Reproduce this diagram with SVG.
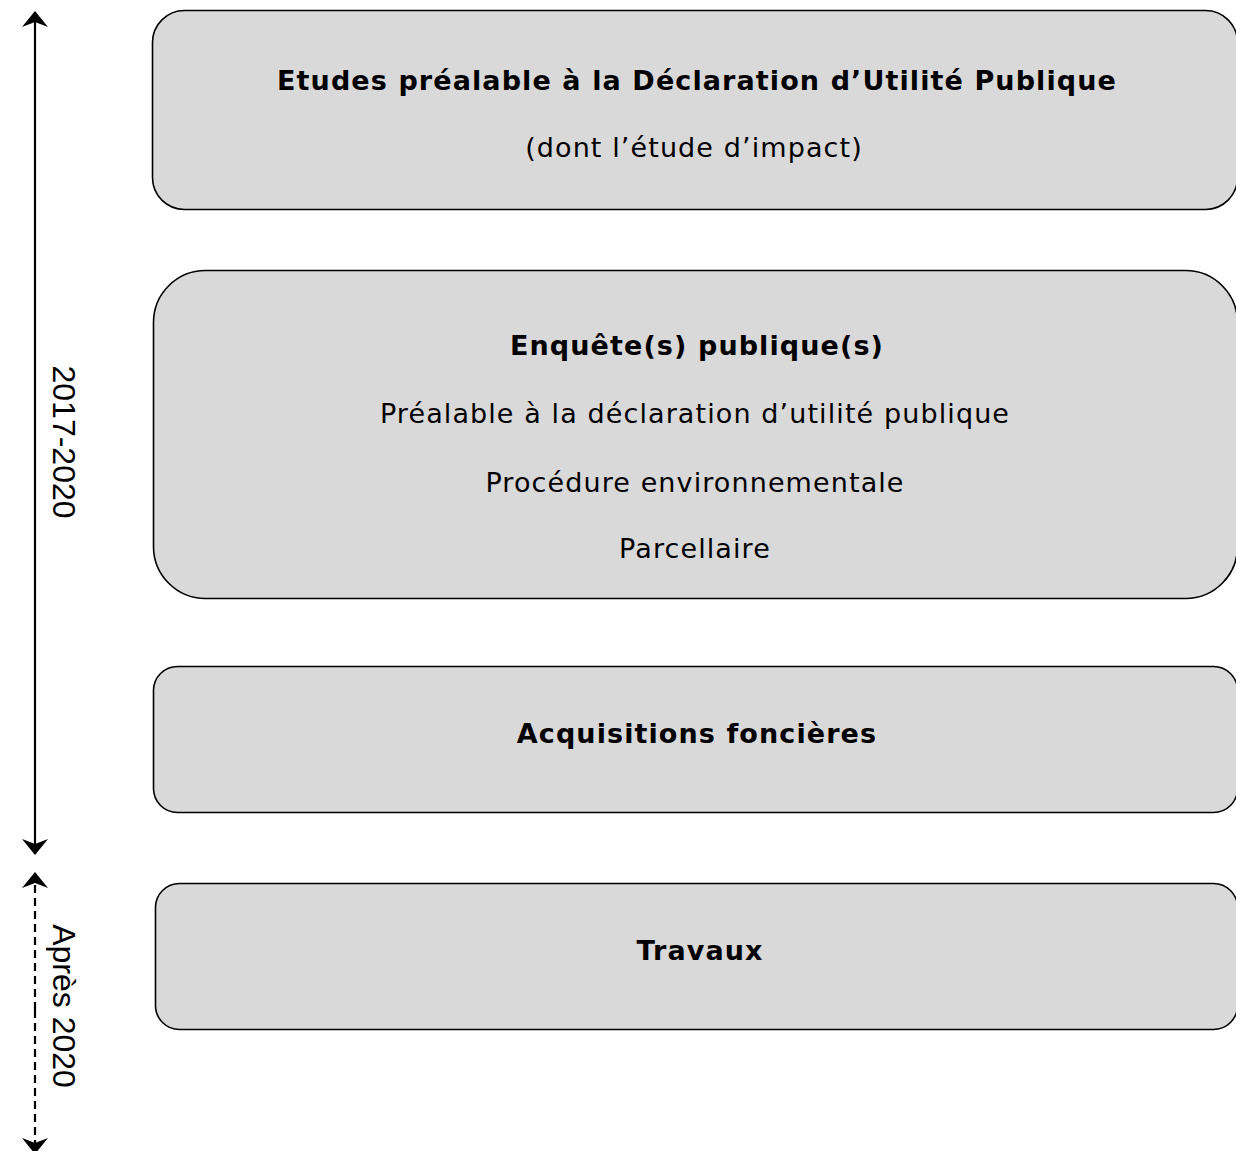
<svg xmlns="http://www.w3.org/2000/svg" width="1236" height="1151" viewBox="0 0 1236 1151">
<style>
.box{fill:#d9d9d9;stroke:#000;stroke-width:1.6}
.t{font-family:"DejaVu Sans",Verdana,sans-serif;font-size:27px;letter-spacing:1.1px;fill:#000;text-anchor:middle}
.b{font-weight:bold}
.side{font-family:"Liberation Sans",Arial,sans-serif;font-size:32px;fill:#000;text-anchor:middle}
.ln{stroke:#000;stroke-width:2.2;fill:none}
</style>
<defs>
<marker id="ah" viewBox="0 0 16 26" refX="15" refY="13" markerWidth="16" markerHeight="26" markerUnits="userSpaceOnUse" orient="auto">
<path d="M0,0 L16,13 L0,26 L5,13 Z" fill="#000"/>
</marker>
</defs>
<g id="connectors">
<line class="ln" x1="35" y1="440" x2="35" y2="12" marker-end="url(#ah)"/>
<line class="ln" x1="35" y1="440" x2="35" y2="854" marker-end="url(#ah)"/>
<line class="ln" x1="35" y1="1010" x2="35" y2="873" stroke-dasharray="8,5" marker-end="url(#ah)"/>
<line class="ln" x1="35" y1="1010" x2="35" y2="1153" stroke-dasharray="8,5" marker-end="url(#ah)"/>
</g>
<g id="label-2017">
<text class="side" transform="translate(53,442) rotate(90)">2017-2020</text>
</g>
<g id="label-apres">
<text class="side" transform="translate(53,1006) rotate(90)">Après 2020</text>
</g>
<g id="node-etudes">
<rect class="box" x="152.5" y="10.5" width="1085" height="199" rx="32" ry="32"/>
<text class="t b" x="697" y="90">Etudes préalable à la Déclaration d’Utilité Publique</text>
<text class="t" x="694" y="157">(dont l’étude d’impact)</text>
</g>
<g id="node-enquete">
<rect class="box" x="153.5" y="270.5" width="1084" height="328" rx="52" ry="52"/>
<text class="t b" x="697" y="355">Enquête(s) publique(s)</text>
<text class="t" x="695" y="423">Préalable à la déclaration d’utilité publique</text>
<text class="t" x="695" y="492">Procédure environnementale</text>
<text class="t" x="695" y="558">Parcellaire</text>
</g>
<g id="node-acquisitions">
<rect class="box" x="153.5" y="666.5" width="1084" height="146" rx="24" ry="24"/>
<text class="t b" x="697" y="743">Acquisitions foncières</text>
</g>
<g id="node-travaux">
<rect class="box" x="155.5" y="883.5" width="1082" height="146" rx="24" ry="24"/>
<text class="t b" x="700" y="960">Travaux</text>
</g>
</svg>
